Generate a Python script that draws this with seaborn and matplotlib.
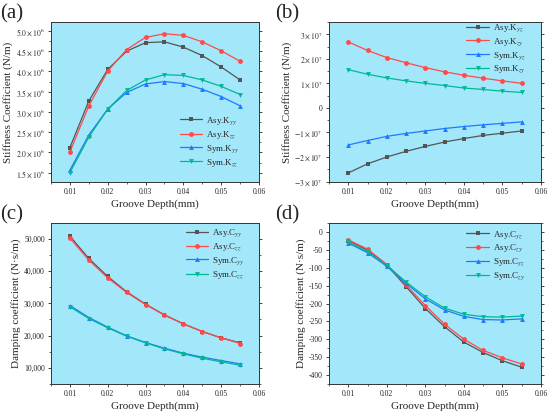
import numpy as np
import pandas as pd
import matplotlib
matplotlib.use("Agg")
import matplotlib.pyplot as plt
from matplotlib.ticker import FuncFormatter, MultipleLocator, AutoMinorLocator
import seaborn as sns

sns.set_style("ticks")
plt.rcParams['font.family'] = ['Liberation Serif', 'DejaVu Serif']
plt.rcParams['mathtext.fontset'] = 'stix'

depth = [0.010, 0.015, 0.020, 0.025, 0.030, 0.035, 0.040, 0.045, 0.050, 0.055]

# (a) direct stiffness, units 1e6 N/m
asy_kyy = [2.12, 3.27, 4.05, 4.50, 4.71, 4.73, 4.60, 4.39, 4.11, 3.79]
asy_kzz = [2.01, 3.15, 4.01, 4.54, 4.84, 4.93, 4.89, 4.73, 4.51, 4.25]
sym_kyy = [1.56, 2.43, 3.07, 3.48, 3.69, 3.75, 3.70, 3.56, 3.38, 3.15]
sym_kzz = [1.50, 2.38, 3.07, 3.53, 3.79, 3.92, 3.90, 3.79, 3.63, 3.43]

# (b) cross stiffness, units 1e7 N/m
asy_kyz = [-2.65, -2.28, -2.00, -1.77, -1.57, -1.39, -1.25, -1.12, -1.03, -0.94]
asy_kzy = [2.69, 2.34, 2.05, 1.84, 1.64, 1.47, 1.33, 1.21, 1.10, 1.00]
sym_kyz = [-1.51, -1.33, -1.16, -1.04, -0.94, -0.84, -0.76, -0.69, -0.63, -0.57]
sym_kzy = [1.56, 1.37, 1.22, 1.10, 1.00, 0.91, 0.81, 0.75, 0.68, 0.63]

# (c) direct damping, N*s/m
asy_cyy = [50830, 43900, 38320, 33570, 29740, 26430, 23640, 21270, 19300, 17750]
asy_czz = [50200, 43390, 37900, 33360, 29640, 26330, 23640, 21270, 19300, 17550]
sym_cyy = [29330, 25610, 22610, 19920, 17860, 16100, 14550, 13310, 12270, 11240]
sym_czz = [28910, 25300, 22400, 19820, 17750, 15890, 14340, 13000, 11860, 10830]

# (d) cross damping, N*s/m
asy_cyz = [-24, -51, -92, -153, -214, -265, -308, -337, -360, -378]
asy_czy = [-22, -48, -91, -148, -206, -258, -300, -331, -352, -369]
sym_cyz = [-31, -58, -96, -144, -187, -218, -236, -245, -246, -243]
sym_czy = [-28, -55, -93, -140, -181, -213, -230, -237, -238, -235]

labels_a = ["Asy.K$_{yy}$", "Asy.K$_{zz}$", "Sym.K$_{yy}$", "Sym.K$_{zz}$"]
labels_b = ["Asy.K$_{yz}$", "Asy.K$_{zy}$", "Sym.K$_{yz}$", "Sym.K$_{zy}$"]
labels_c = ["Asy.C$_{yy}$", "Asy.C$_{zz}$", "Sym.C$_{yy}$", "Sym.C$_{zz}$"]
labels_d = ["Asy.C$_{yz}$", "Asy.C$_{zy}$", "Sym.C$_{yz}$", "Sym.C$_{zy}$"]

colors = ["#555555", "#ff4a4a", "#1f78ff", "#00b894"]
markers = ["s", "o", "^", "v"]
bg = "#a3e7fb"

def make_df(labels, series, scale):
    rows = []
    for lab, vals in zip(labels, series):
        for d, v in zip(depth, vals):
            rows.append({"depth": d, "value": v * scale, "series": lab})
    return pd.DataFrame(rows)

fig = plt.figure(figsize=(5.5, 4.15), dpi=100)
W, H = 550, 415
def rect(l, r, t, b):
    return [l / W, 1 - b / H, (r - l) / W, (b - t) / H]

ax_a = fig.add_axes(rect(51, 259, 22, 182))
ax_b = fig.add_axes(rect(329, 541, 22, 182))
ax_c = fig.add_axes(rect(51, 259, 223, 384))
ax_d = fig.add_axes(rect(329, 541, 223, 384))

panels = [
    (ax_a, labels_a, [asy_kyy, asy_kzz, sym_kyy, sym_kzz], 1e6, "Stiffness Coefficient (N/m)", (1.27e6, 5.22e6), "(a)", (0.61, 0.43), (0, 14)),
    (ax_b, labels_b, [asy_kyz, asy_kzy, sym_kyz, sym_kzy], 1e7, "Stiffness Coefficient (N/m)", (-3.02e7, 3.5e7), "(b)", (0.64, 1.01), (275, 14)),
    (ax_c, labels_c, [asy_cyy, asy_czz, sym_cyy, sym_czz], 1, "Damping coefficient (N·s/m)", (5000, 54900), "(c)", (0.64, 0.985), (0, 215)),
    (ax_d, labels_d, [asy_cyz, asy_czy, sym_cyz, sym_czy], 1, "Damping coefficient (N·s/m)", (-425, 25), "(d)", (0.64, 0.975), (275, 215)),
]

for ax, labels, series, scale, ylab, ylim, tag, legpos, tagpos in panels:
    df = make_df(labels, series, scale)
    ax.set_facecolor(bg)
    sns.lineplot(data=df, x="depth", y="value", hue="series", style="series",
                 palette=dict(zip(labels, colors)), markers=dict(zip(labels, markers)),
                 dashes=False, markersize=3.5, markeredgewidth=0, linewidth=0.9, ax=ax)
    ax.set_xlim(0.005, 0.06)
    ax.set_ylim(*ylim)
    ax.xaxis.set_major_locator(MultipleLocator(0.01))
    ax.xaxis.set_minor_locator(MultipleLocator(0.005))
    ax.xaxis.set_major_formatter(FuncFormatter(lambda v, p: f"{v:.2f}"))
    ax.set_xlabel("Groove Depth(mm)", fontsize=8, labelpad=2)
    ax.set_ylabel(ylab, fontsize=8, labelpad=2)
    ax.tick_params(axis="both", which="major", labelsize=5.5, length=2.5, width=0.6, pad=2)
    ax.tick_params(axis="both", which="minor", length=1.5, width=0.5)
    ax.tick_params(which="both", right=True, top=False)
    for s in ax.spines.values():
        s.set_linewidth(0.7)
        s.set_color("#333333")
    ax.legend(frameon=False, fontsize=6.5, handlelength=2.5, labelspacing=0.22,
              handletextpad=0.4, loc="upper left", bbox_to_anchor=legpos,
              borderaxespad=0, borderpad=0.2)
    fig.text(tagpos[0] / W, 1 - tagpos[1] / H, tag, fontsize=15, va="center", ha="left")

ax_a.yaxis.set_major_locator(MultipleLocator(0.5e6))
ax_a.yaxis.set_major_formatter(FuncFormatter(lambda v, p: f"${v/1e6:.1f}\\times10^{{6}}$"))
ax_b.yaxis.set_major_locator(MultipleLocator(1e7))
def fmt_b(v, p):
    n = int(round(v / 1e7))
    if n == 0:
        return "0"
    return f"${n}\\times10^{{7}}$"
ax_b.yaxis.set_major_formatter(FuncFormatter(fmt_b))
ax_c.yaxis.set_major_locator(MultipleLocator(10000))
ax_c.yaxis.set_major_formatter(FuncFormatter(lambda v, p: f"{int(v):,}"))
ax_d.yaxis.set_major_locator(MultipleLocator(50))
ax_d.yaxis.set_major_formatter(FuncFormatter(lambda v, p: f"{int(v)}"))
for ax in (ax_a, ax_b, ax_c, ax_d):
    ax.yaxis.set_minor_locator(AutoMinorLocator(2))

fig.savefig("out.png", dpi=100)
